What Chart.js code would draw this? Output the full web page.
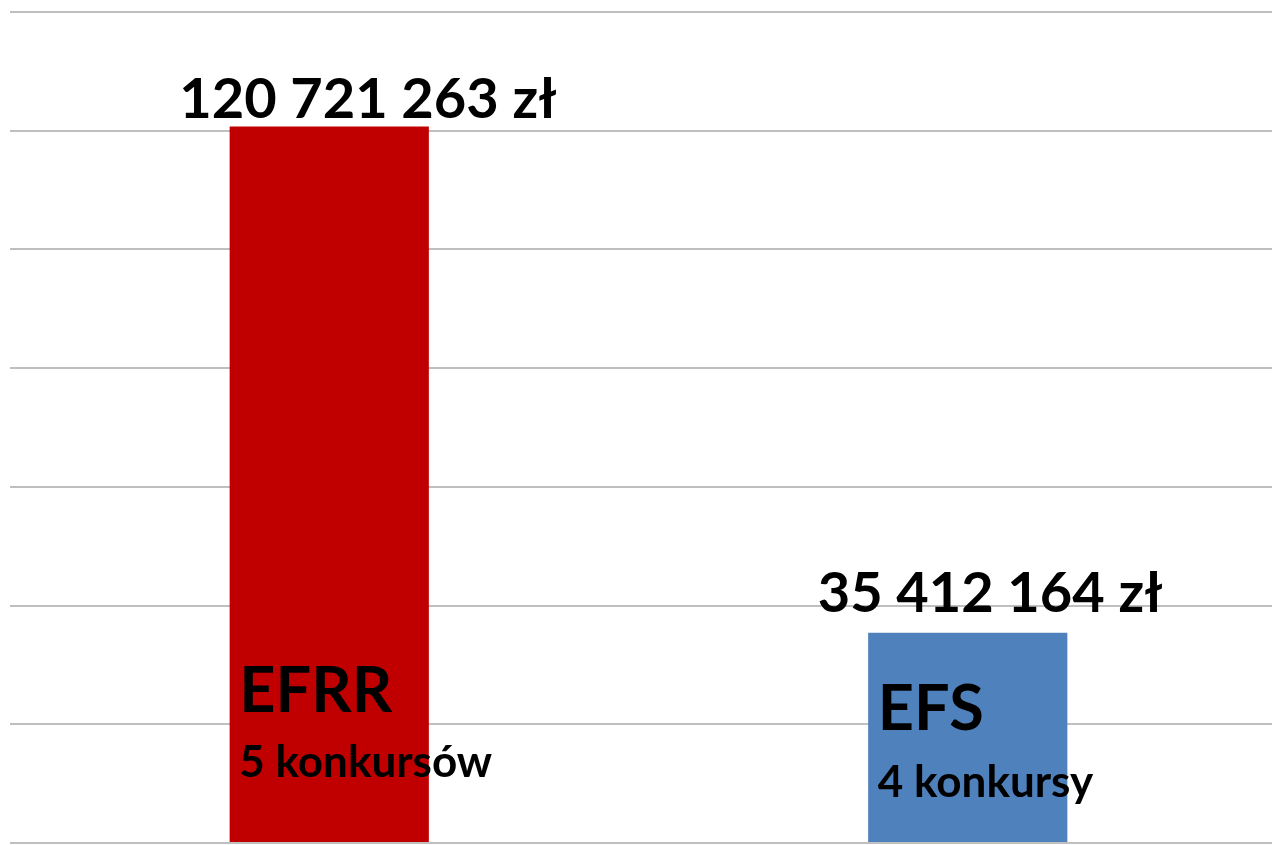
<!DOCTYPE html>
<html>
<head>
<meta charset="utf-8">
<script src="https://cdn.jsdelivr.net/npm/chart.js@4/dist/chart.umd.min.js"></script>
<style>
  html, body { margin:0; padding:0; background:#fff; overflow:hidden; }
  #wrap { width:1290px; height:845px; position:relative; }
</style>
</head>
<body>
<div id="wrap"><canvas id="chart"></canvas></div>
<script>
// dane
const categories = ['EFRR', 'EFS'];
const amounts = [120721263, 35412164];
const subLabels = ['5 konkursów', '4 konkursy'];
const barColors = ['#C00000', '#4F81BD'];
const axisMax = 140000000;
const axisStep = 20000000;

function fmtZl(n){
  return String(n).replace(/\B(?=(\d{3})+(?!\d))/g, ' ') + ' zł';
}

const FONT = 'Lato, "Open Sans", sans-serif';

// etykiety rysowane na słupkach
const labelsPlugin = {
  id: 'labels',
  afterDatasetsDraw(chart){
    const ctx = chart.ctx;
    const meta = chart.getDatasetMeta(0);
    const bottom = chart.scales.y.bottom;
    const valueGap = [8, 21];
    const nameY = [131, 113];
    const subY = [66, 46];
    ctx.save();
    ctx.fillStyle = '#000';
    ctx.textAlign = 'left';
    ctx.textBaseline = 'alphabetic';
    meta.data.forEach((bar, i) => {
      ctx.font = 'bold 56px ' + FONT;
      ctx.fillText(fmtZl(amounts[i]), bar.x - 150, bar.y - valueGap[i]);
      ctx.font = 'bold 63px ' + FONT;
      ctx.fillText(categories[i], bar.x - 90, bottom - nameY[i]);
      ctx.font = 'bold 44px ' + FONT;
      ctx.fillText(subLabels[i], bar.x - 90, bottom - subY[i]);
    });
    ctx.restore();
  }
};

new Chart(document.getElementById('chart'), {
  type: 'bar',
  data: {
    labels: categories,
    datasets: [{
      data: amounts,
      backgroundColor: barColors,
      borderWidth: 0,
      barPercentage: 0.312,
      categoryPercentage: 1
    }]
  },
  options: {
    responsive: true,
    maintainAspectRatio: false,
    animation: false,
    layout: { padding: { left: 10, right: 3, top: 12, bottom: 2 } },
    plugins: { legend: { display: false }, tooltip: { enabled: false } },
    scales: {
      x: { display: false },
      y: {
        min: 0,
        max: axisMax,
        ticks: { display: false, stepSize: axisStep },
        grid: { color: '#BFBFBF', lineWidth: 2, drawTicks: false },
        border: { display: false }
      }
    }
  },
  plugins: [labelsPlugin]
});
</script>
</body>
</html>
